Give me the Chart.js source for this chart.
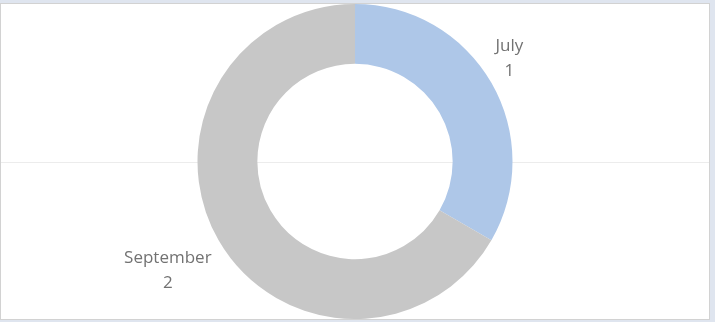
<!DOCTYPE html>
<html>
<head>
<meta charset="utf-8">
<script src="https://cdn.jsdelivr.net/npm/chart.js@4"></script>
<style>
  html, body { margin: 0; padding: 0; background: #dfe5ef; }
  #frame {
    position: absolute; left: 0; top: 3px;
    width: 708px; height: 315px;
    background: #fff; border: 1px solid #d2d2d2;
  }
  #chart { display: block; }
</style>
</head>
<body>
<div id="frame"><canvas id="chart" width="708" height="315"></canvas></div>
<script>
const months = ['July', 'September'];
const counts = [1, 2];
const colors = ['#aec7e8', '#c7c7c7'];

// faint horizontal rule through the middle, behind the ring
const midLine = {
  id: 'midLine',
  beforeDatasetsDraw(chart) {
    const ctx = chart.ctx;
    const arc = chart.getDatasetMeta(0).data[0];
    ctx.save();
    ctx.strokeStyle = '#ececec';
    ctx.lineWidth = 1;
    ctx.beginPath();
    ctx.moveTo(0, Math.round(arc.y) + 0.5);
    ctx.lineTo(chart.width, Math.round(arc.y) + 0.5);
    ctx.stroke();
    ctx.restore();
  }
};

// name + value labels placed outside each slice
const outsideLabels = {
  id: 'outsideLabels',
  afterDatasetsDraw(chart) {
    const ctx = chart.ctx;
    ctx.save();
    ctx.font = '17px "Open Sans"';
    ctx.fillStyle = '#727272';
    ctx.textAlign = 'center';
    ctx.textBaseline = 'middle';
    chart.getDatasetMeta(0).data.forEach((arc, i) => {
      const mid = (arc.startAngle + arc.endAngle) / 2;
      const ex = arc.x + Math.cos(mid) * arc.outerRadius;
      const ey = arc.y + Math.sin(mid) * arc.outerRadius;
      const w = Math.max(ctx.measureText(months[i]).width, ctx.measureText(String(counts[i])).width);
      const cx = Math.cos(mid) >= 0 ? ex + w / 2 + 4 : ex - w / 2 - 7;
      const top = Math.sin(mid) < 0 ? ey - 49 : ey + 6;
      ctx.fillText(months[i], cx, top + 12);
      ctx.fillText(String(counts[i]), cx, top + 37);
    });
    ctx.restore();
  }
};

new Chart(document.getElementById('chart'), {
  type: 'doughnut',
  data: {
    labels: months,
    datasets: [{
      data: counts,
      backgroundColor: colors,
      borderWidth: 0
    }]
  },
  options: {
    responsive: false,
    animation: false,
    cutout: '62%',
    layout: { padding: 0 },
    plugins: {
      legend: { display: false },
      tooltip: { enabled: false }
    }
  },
  plugins: [midLine, outsideLabels]
});
</script>
</body>
</html>
